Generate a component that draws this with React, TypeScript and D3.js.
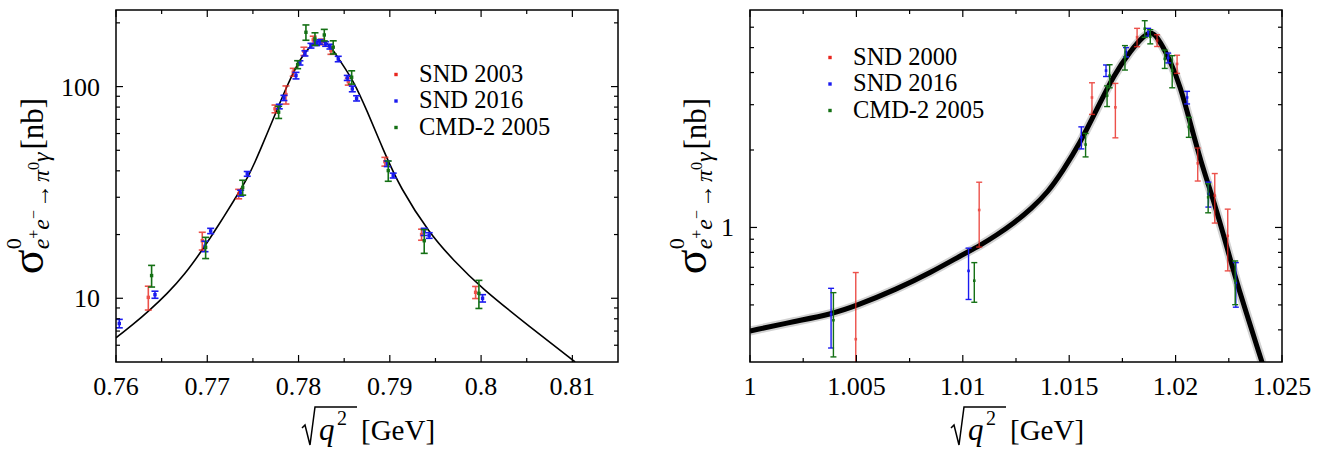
import React from 'react';
import * as d3 from 'd3';

type Pt = [number, number, number]; // x, value, error
type XY = [number, number];

// ---- omega region (left panel) ----
const leftSnd2003: Pt[] = [
  [0.76354, 10.1, 1.3], [0.76945, 18.7, 1.8], [0.77344, 31.1, 1.6], [0.77742, 78.5, 3.3],
  [0.77862, 91.7, 9], [0.77942, 116.9, 5], [0.78059, 146.8, 6.6], [0.78161, 166.2, 6.7],
  [0.78253, 162.6, 5], [0.78355, 148, 6], [0.78545, 105.6, 4], [0.78946, 44.2, 2.1],
  [0.79348, 20.0, 1.2], [0.7994, 10.67, 0.7],
];
const leftSnd2016: Pt[] = [
  [0.76036, 7.6, 0.35], [0.76427, 10.4, 0.4], [0.76975, 17.6, 1.0], [0.77037, 20.8, 0.6],
  [0.77366, 31.4, 1.0], [0.77438, 38.7, 1.0], [0.77789, 80.5, 2], [0.7784, 88.4, 2.5],
  [0.77972, 112.7, 4], [0.78015, 129.4, 3], [0.7807, 143.5, 4], [0.78136, 156, 4],
  [0.78198, 160.2, 4], [0.78234, 162.6, 4], [0.78297, 159, 4], [0.78344, 154.5, 4],
  [0.78435, 135, 4], [0.78534, 109.9, 3], [0.78589, 97.5, 3], [0.78636, 88, 2.5],
  [0.78972, 43.2, 1.3], [0.79037, 38, 1], [0.79377, 20.6, 0.8], [0.79431, 19.8, 0.6],
  [0.80016, 10.0, 0.4],
];
const leftCmd2005: Pt[] = [
  [0.7639, 12.8, 1.5], [0.76982, 17.4, 2.0], [0.77388, 33.4, 2.7], [0.77782, 75.7, 5],
  [0.7799, 127, 5.5], [0.78081, 180.5, 15], [0.7818, 168, 11.5], [0.78282, 175.3, 11],
  [0.7838, 153.5, 11], [0.78582, 110.7, 8], [0.78983, 40.1, 4.4], [0.79377, 18.7, 2.4],
  [0.79976, 10.55, 1.6],
];
const leftFit: XY[] = [
  [0.7600, 6.5], [0.7620, 7.6], [0.7637, 8.8], [0.7656, 10.5], [0.7675, 12.9], [0.7695, 17.0],
  [0.7712, 22.0], [0.7729, 28.9], [0.7745, 37.3], [0.7758, 50], [0.7776, 77], [0.7787, 100],
  [0.7802, 137], [0.7816, 161], [0.7825, 166], [0.7834, 158], [0.7845, 133], [0.7860, 107],
  [0.7875, 77], [0.7893, 50], [0.7911, 33.4], [0.7944, 20.1], [0.7970, 15.1], [0.7999, 11.3],
  [0.8054, 7.3], [0.8103, 5.0],
];

// ---- phi region (right panel) ----
const rightSnd2000: Pt[] = [
  [1.00497, 0.368, 0.30], [1.01077, 1.169, 0.33], [1.01607, 3.2, 0.45], [1.01717, 2.93, 0.7],
  [1.01819, 5.49, 0.45], [1.01913, 5.33, 0.28], [1.02007, 4.32, 0.35], [1.02104, 1.775, 0.26],
  [1.02184, 1.33, 0.29], [1.02245, 0.928, 0.25],
];
const rightSnd2016: Pt[] = [
  [1.00381, 0.46, 0.12], [1.01027, 0.678, 0.153], [1.01557, 2.24, 0.22], [1.01673, 4.07, 0.21],
  [1.01767, 4.80, 0.2], [1.01871, 5.74, 0.2], [1.01965, 4.56, 0.2], [1.02054, 3.2, 0.18],
  [1.02154, 1.35, 0.15], [1.02283, 0.61, 0.12],
];
const rightCmd2005: Pt[] = [
  [1.00392, 0.436, 0.122], [1.01054, 0.621, 0.109], [1.01577, 2.10, 0.22], [1.01678, 3.25, 0.3],
  [1.0169, 3.89, 0.4], [1.01762, 4.59, 0.5], [1.01855, 5.92, 0.44], [1.01881, 5.52, 0.35],
  [1.01949, 4.52, 0.37], [1.01984, 4.07, 0.58], [1.02062, 2.46, 0.22], [1.02153, 1.31, 0.17],
  [1.0228, 0.621, 0.12],
];
const rightFit: XY[] = [
  [1.0000, 0.396], [1.0022, 0.433], [1.0038, 0.46], [1.0050, 0.496], [1.0069, 0.576],
  [1.0085, 0.668], [1.0100, 0.785], [1.0108, 0.85], [1.0116, 0.935], [1.0124, 1.04],
  [1.0132, 1.18], [1.0140, 1.37], [1.0147, 1.66], [1.0155, 2.12], [1.0163, 2.88],
  [1.0171, 3.92], [1.0179, 4.88], [1.0185, 5.55], [1.0188, 5.75], [1.0191, 5.6],
  [1.01976, 4.45], [1.02023, 3.51], [1.0207, 2.53], [1.02117, 1.82], [1.02179, 1.27],
  [1.02242, 0.836], [1.02289, 0.602], [1.02407, 0.298],
];

const leftXTicks = [0.76, 0.77, 0.78, 0.79, 0.80, 0.81];
const leftXTickLabels = ['0.76', '0.77', '0.78', '0.79', '0.8', '0.81'];
const leftXMinor = [0.765, 0.775, 0.785, 0.795, 0.805];
const leftYTicks = [10, 100];
const leftYTickLabels = ['10', '100'];
const leftYMinor = [6, 7, 8, 9, 20, 30, 40, 50, 60, 70, 80, 90, 200];
const leftLegend = ['SND 2003', 'SND 2016', 'CMD-2 2005'];

const rightXTicks = [1, 1.005, 1.01, 1.015, 1.02, 1.025];
const rightXTickLabels = ['1', '1.005', '1.01', '1.015', '1.02', '1.025'];
const rightXMinor = [1.0025, 1.0075, 1.0125, 1.0175, 1.0225];
const rightYTicks = [1];
const rightYTickLabels = ['1'];
const rightYMinor = [0.4, 0.5, 0.6, 0.7, 0.8, 0.9, 2, 3, 4, 5, 6];
const rightLegend = ['SND 2000', 'SND 2016', 'CMD-2 2005'];

const COLORS = ['#e8261e', '#1a1af0', '#147014'];
const FONT = 'Liberation Serif, DejaVu Serif, serif';
const TOP = 10;
const BOTTOM = 362;

function YLabel({ x, y }: { x: number; y: number }) {
  return (
    <text transform={`translate(${x},${y}) rotate(-90)`} textAnchor="middle" style={{ fontFamily: FONT }} fontSize={31}>
      <tspan fontSize={46}>σ</tspan>
      <tspan fontSize={22} dy={-22}>0</tspan>
      <tspan fontSize={24} fontStyle="italic" dx={-11} dy={28}>e</tspan>
      <tspan fontSize={16} dy={-10}>+</tspan>
      <tspan fontSize={24} fontStyle="italic" dy={10}>e</tspan>
      <tspan fontSize={16} dy={-10}>−</tspan>
      <tspan fontSize={24} dx={2} dy={10}>→</tspan>
      <tspan fontSize={24} fontStyle="italic" dx={2}>π</tspan>
      <tspan fontSize={16} dy={-10}>0</tspan>
      <tspan fontSize={24} fontStyle="italic" dy={10}>γ</tspan>
      <tspan fontSize={31} dx={3} dy={-6}>[nb]</tspan>
    </text>
  );
}

function XLabel({ cx }: { cx: number }) {
  return (
    <g style={{ fontFamily: FONT }}>
      <path d={`M${cx - 65},428 L${cx - 62},425 L${cx - 57},445 L${cx - 52},407 L${cx - 10},407`}
        fill="none" stroke="#000" strokeWidth={1.5} />
      <text x={cx - 48} y={440} fontSize={31} fontStyle="italic">q</text>
      <text x={cx - 30} y={425} fontSize={20}>2</text>
      <text x={cx - 6} y={440} fontSize={29}>[GeV]</text>
    </g>
  );
}

interface PanelProps {
  id: string;
  left: number;
  right: number;
  xDomain: [number, number];
  yDomain: [number, number];
  series: Pt[][];
  fit: XY[];
  thick: boolean;
  xTicks: number[]; xTickLabels: string[]; xMinor: number[];
  yTicks: number[]; yTickLabels: string[]; yMinor: number[];
  legend: string[];
  legendX: number; legendY: number;
  yLabelX: number;
}

function Panel(p: PanelProps) {
  const x = d3.scaleLinear().domain(p.xDomain).range([p.left, p.right]);
  const y = d3.scaleLog().domain(p.yDomain).range([BOTTOM, TOP]);
  const line = d3.line<XY>().x(d => x(d[0])).y(d => y(d[1])).curve(d3.curveBasis);
  const cap = p.thick ? 3 : 3.5;
  const ms = p.thick ? 2.6 : 3.4;
  const bw = p.thick ? 1.4 : 1.6;
  const MAJ = 7, MIN = 4;
  const LS = 26.5;
  return (
    <g>
      <defs>
        <clipPath id={p.id}>
          <rect x={p.left} y={TOP} width={p.right - p.left} height={BOTTOM - TOP} />
        </clipPath>
      </defs>
      <g clipPath={`url(#${p.id})`}>
        {p.thick && <path d={line(p.fit) || ''} fill="none" stroke="#d2d2d2" strokeWidth={9} />}
        <path d={line(p.fit) || ''} fill="none" stroke="#000" strokeWidth={p.thick ? 5 : 1.6} />
        {p.series.map((s, si) => (
          <g key={si} stroke={COLORS[si]} fill={COLORS[si]} opacity={si === 0 ? 0.8 : 1}>
            {s.map((d, i) => {
              const px = x(d[0]);
              const lo = y(Math.max(d[1] - d[2], p.yDomain[0] * 0.3));
              const hi = y(d[1] + d[2]);
              return (
                <g key={i}>
                  <line x1={px} x2={px} y1={lo} y2={hi} strokeWidth={bw} />
                  <line x1={px - cap} x2={px + cap} y1={lo} y2={lo} strokeWidth={bw} />
                  <line x1={px - cap} x2={px + cap} y1={hi} y2={hi} strokeWidth={bw} />
                  <rect x={px - ms / 2} y={y(d[1]) - ms / 2} width={ms} height={ms} stroke="none" />
                </g>
              );
            })}
          </g>
        ))}
      </g>
      <rect x={p.left} y={TOP} width={p.right - p.left} height={BOTTOM - TOP} fill="none" stroke="#000" strokeWidth={1.5} />
      <g stroke="#000" strokeWidth={1.2}>
        {p.xTicks.concat(p.xMinor).map((t, i) => {
          const len = i < p.xTicks.length ? MAJ : MIN;
          return (
            <g key={'x' + i}>
              <line x1={x(t)} x2={x(t)} y1={BOTTOM} y2={BOTTOM - len} />
              <line x1={x(t)} x2={x(t)} y1={TOP} y2={TOP + len} />
            </g>
          );
        })}
        {p.yTicks.concat(p.yMinor).map((t, i) => {
          const len = i < p.yTicks.length ? MAJ : MIN;
          return (
            <g key={'y' + i}>
              <line x1={p.left} x2={p.left + len} y1={y(t)} y2={y(t)} />
              <line x1={p.right} x2={p.right - len} y1={y(t)} y2={y(t)} />
            </g>
          );
        })}
      </g>
      <g style={{ fontFamily: FONT }} fontSize={26}>
        {p.xTicks.map((t, i) => (
          <text key={i} x={x(t)} y={395} textAnchor="middle">{p.xTickLabels[i]}</text>
        ))}
        {p.yTicks.map((t, i) => (
          <text key={i} x={p.left - 16} y={y(t) + 9} textAnchor="end">{p.yTickLabels[i]}</text>
        ))}
      </g>
      <g style={{ fontFamily: FONT }} fontSize={24.5}>
        {p.legend.map((l, i) => (
          <g key={l}>
            <rect x={p.legendX - 1.7} y={p.legendY + i * LS - 1.7} width={3.4} height={3.4} fill={COLORS[i]} />
            <text x={p.legendX + 23} y={p.legendY + i * LS + 7}>{l}</text>
          </g>
        ))}
      </g>
      <YLabel x={p.yLabelX} y={186} />
      <XLabel cx={(p.left + p.right) / 2} />
    </g>
  );
}

export default function App() {
  return (
    <svg width={1324} height={449} style={{ position: 'absolute', left: 0, top: 0, background: '#fff', fontFamily: FONT }}>
      <Panel id="clipL" left={116} right={618} xDomain={[0.76, 0.815]} yDomain={[5, 230]}
        series={[leftSnd2003, leftSnd2016, leftCmd2005]} fit={leftFit} thick={false}
        xTicks={leftXTicks} xTickLabels={leftXTickLabels} xMinor={leftXMinor}
        yTicks={leftYTicks} yTickLabels={leftYTickLabels} yMinor={leftYMinor}
        legend={leftLegend} legendX={396} legendY={74.5} yLabelX={43} />
      <Panel id="clipR" left={750} right={1282} xDomain={[1, 1.025]} yDomain={[0.3, 7]}
        series={[rightSnd2000, rightSnd2016, rightCmd2005]} fit={rightFit} thick={true}
        xTicks={rightXTicks} xTickLabels={rightXTickLabels} xMinor={rightXMinor}
        yTicks={rightYTicks} yTickLabels={rightYTickLabels} yMinor={rightYMinor}
        legend={rightLegend} legendX={830} legendY={57.5} yLabelX={706} />
    </svg>
  );
}
